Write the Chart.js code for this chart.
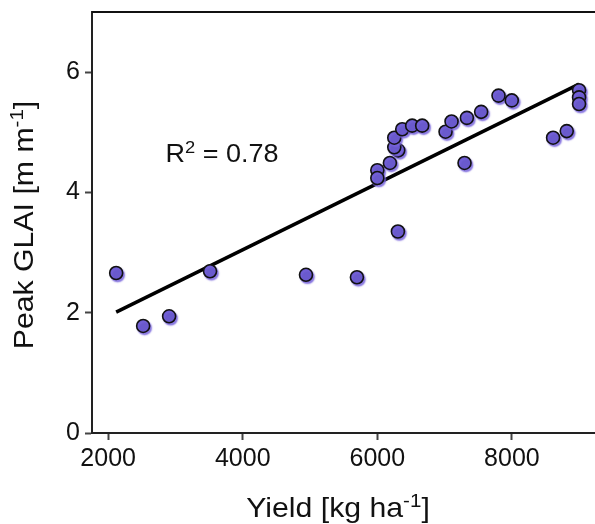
<!DOCTYPE html>
<html>
<head>
<meta charset="utf-8">
<script src="https://cdn.jsdelivr.net/npm/chart.js@4/dist/chart.umd.min.js"></script>
<style>
  html, body { margin: 0; padding: 0; background: #fff; }
  #wrap { width: 595px; height: 524px; }
</style>
</head>
<body>
<div id="wrap"><canvas id="glaiChart"></canvas></div>
<script>
// yield [kg/ha] and peak GLAI
const yieldVals = [2119, 2520, 2906, 3514, 4940, 5697, 6306, 6000, 6000, 6187, 6311, 6252, 6252,
  6370, 6518, 6667, 7014, 7103, 7331, 7543, 7801, 7998, 7296, 8612, 8815, 8998, 8998, 8998];
const glaiVals = [2.66, 1.78, 1.94, 2.69, 2.63, 2.59, 3.35, 4.37, 4.24, 4.49, 4.70, 4.75, 4.91,
  5.05, 5.11, 5.11, 5.01, 5.18, 5.24, 5.34, 5.61, 5.53, 4.49, 4.91, 5.02, 5.70, 5.58, 5.47];

// fitted line end points
const fitX = [2119, 8998];
const fitY = [2.01, 5.80];

const xTicks = [2000, 4000, 6000, 8000];
const yTicks = [0, 2, 4, 6];
const rSquared = "0.78";

const FONT = "'Liberation Sans', Arial, sans-serif";
const STRETCH = 1.08;

function drawParts(ctx, x, y, parts, size) {
  // text with superscripts, centred on x, baseline y
  const supSize = size * 0.68;
  let total = 0;
  parts.forEach(p => {
    ctx.font = (p.sup ? supSize : size) + "px " + FONT;
    p.w = ctx.measureText(p.t).width;
    total += p.w;
  });
  let cx = x - total / 2;
  parts.forEach(p => {
    ctx.font = (p.sup ? supSize : size) + "px " + FONT;
    ctx.fillText(p.t, cx, p.sup ? y - size * 0.36 : y);
    cx += p.w;
  });
}

const extrasPlugin = {
  id: "extras",
  beforeDatasetDraw(chart, args) {
    if (args.index === 0) {
      const ctx = chart.ctx;
      ctx.save();
      ctx.shadowColor = "rgba(120,100,220,0.85)";
      ctx.shadowOffsetX = 1.5;
      ctx.shadowOffsetY = 2;
      ctx.shadowBlur = 1.5;
    }
  },
  afterDatasetDraw(chart, args) {
    if (args.index === 0) chart.ctx.restore();
  },
  afterDraw(chart) {
    const ctx = chart.ctx;
    const a = chart.chartArea;
    ctx.save();
    // top frame line
    ctx.strokeStyle = "#111";
    ctx.lineWidth = 2;
    ctx.beginPath();
    ctx.moveTo(a.left, a.top);
    ctx.lineTo(a.right, a.top);
    ctx.stroke();

    ctx.fillStyle = "#111";
    ctx.textAlign = "left";
    ctx.textBaseline = "alphabetic";

    // R2 label
    ctx.save();
    ctx.translate(222, 162);
    ctx.scale(STRETCH, 1);
    drawParts(ctx, 0, 0, [{ t: "R" }, { t: "2", sup: true }, { t: " = " + rSquared }], 25);
    ctx.restore();

    // x title
    ctx.save();
    ctx.translate(338, 517);
    ctx.scale(STRETCH, 1);
    drawParts(ctx, 0, 0, [{ t: "Yield [kg ha" }, { t: "-1", sup: true }, { t: "]" }], 28);
    ctx.restore();

    // y title
    ctx.save();
    ctx.translate(33, 225);
    ctx.rotate(-Math.PI / 2);
    ctx.scale(STRETCH, 1);
    drawParts(ctx, 0, 0, [{ t: "Peak GLAI [m m" }, { t: "-1", sup: true }, { t: "]" }], 28);
    ctx.restore();

    ctx.restore();
  }
};

new Chart(document.getElementById("glaiChart"), {
  type: "scatter",
  data: {
    datasets: [
      {
        label: "GLAI",
        data: yieldVals.map((v, i) => ({ x: v, y: glaiVals[i] })),
        backgroundColor: "#6a5acd",
        borderColor: "#111",
        borderWidth: 1.6,
        pointRadius: 6.5,
        pointHoverRadius: 6.5
      },
      {
        label: "fit",
        type: "line",
        data: fitX.map((v, i) => ({ x: v, y: fitY[i] })),
        borderColor: "#000",
        borderWidth: 3.5,
        pointRadius: 0,
        fill: false
      }
    ]
  },
  options: {
    responsive: true,
    maintainAspectRatio: false,
    animation: false,
    layout: { autoPadding: false, padding: { top: 12, right: 0, left: 0, bottom: 0 } },
    plugins: { legend: { display: false }, tooltip: { enabled: false } },
    scales: {
      x: {
        type: "linear",
        min: 1760,
        max: 9235,
        afterBuildTicks: s => { s.ticks = xTicks.map(v => ({ value: v })); },
        afterFit: s => { s.height = 91; s.paddingLeft = 0; s.paddingRight = 0; },
        grid: { drawOnChartArea: false, drawTicks: true, tickLength: 7, tickWidth: 2, tickColor: "#444" },
        border: { display: true, color: "#222", width: 2 },
        ticks: { color: "#111", font: { family: FONT, size: 25 }, padding: 4, callback: v => String(v) }
      },
      y: {
        type: "linear",
        min: 0,
        max: 7,
        afterBuildTicks: s => { s.ticks = yTicks.map(v => ({ value: v })); },
        afterFit: s => { s.width = 92; s.paddingTop = 0; s.paddingBottom = 0; },
        grid: { drawOnChartArea: false, drawTicks: true, tickLength: 7, tickWidth: 2, tickColor: "#444" },
        border: { display: true, color: "#222", width: 2 },
        ticks: { color: "#111", font: { family: FONT, size: 25 }, padding: 5, callback: v => String(v) }
      }
    }
  },
  plugins: [extrasPlugin]
});
</script>
</body>
</html>
